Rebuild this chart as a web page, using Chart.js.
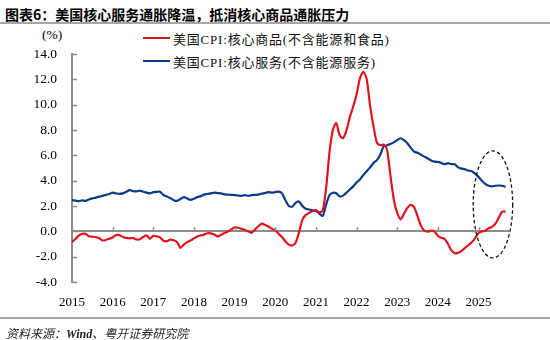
<!DOCTYPE html>
<html>
<head>
<meta charset="utf-8">
<script src="https://cdn.jsdelivr.net/npm/chart.js@4.4.1/dist/chart.umd.min.js"></script>
<style>
  body { margin: 0; background: #fff; }
  #wrap { position: relative; width: 550px; height: 340px; overflow: hidden; background: #fff; }
  #chart { position: absolute; left: 0; top: 0; }
  .title { position: absolute; left: 5px; top: 4px; font: bold 14px "Noto Sans CJK SC", sans-serif; color: #000; white-space: nowrap; }
  .rule { position: absolute; left: 0; width: 550px; height: 1.5px; background: #a6a6a6; }
  .source { position: absolute; left: 6px; top: 324px; font: italic 12px "Liberation Serif", "Noto Sans CJK SC", serif; color: #222; white-space: nowrap; }
  .source b { font-weight: bold; }
  .unit { position: absolute; left: 42px; top: 27px; font: 13.5px "Liberation Serif", serif; color: #000; }
  .lg { position: absolute; left: 143px; height: 16px; display: flex; align-items: center; white-space: nowrap;
        font: 13px "Liberation Serif", "Noto Sans CJK SC", serif; letter-spacing: 0.8px; color: #111; }
  .lg i { display: inline-block; width: 27px; height: 2px; margin-right: 3px; }
</style>
</head>
<body>
<div id="wrap">
  <div class="title">图表6：美国核心服务通胀降温，抵消核心商品通胀压力</div>
  <div class="rule" style="top:22px"></div>
  <div class="unit">(%)</div>
  <div class="lg" style="top:30px"><i style="background:#E0141E"></i>美国CPI:核心商品(不含能源和食品)</div>
  <div class="lg" style="top:53px"><i style="background:#0A3A8C"></i>美国CPI:核心服务(不含能源服务)</div>
  <canvas id="chart" width="550" height="340"></canvas>
  <div class="rule" style="top:317px"></div>
  <div class="source">资料来源：<b>Wind</b>、粤开证券研究院</div>
</div>
<script>
// monthly, Jan 2015 .. Sep 2025, YoY %
const startYear = 2015;
const yearLabels = [2015, 2016, 2017, 2018, 2019, 2020, 2021, 2022, 2023, 2024, 2025];
const yMin = -4, yMax = 14, yStep = 2;

const coreGoods = [
  -0.85, -0.60, -0.34, -0.20, -0.20, -0.38, -0.42, -0.45, -0.55, -0.72, -0.68, -0.58,
  -0.48, -0.30, -0.30, -0.45, -0.52, -0.55, -0.53, -0.64, -0.62, -0.45, -0.32, -0.58,
  -0.36, -0.40, -0.48, -0.75, -0.78, -0.66, -0.70, -0.85, -1.30, -1.05, -0.85, -0.72,
  -0.56, -0.40, -0.32, -0.26, -0.15, -0.16, -0.25, -0.40, -0.28, -0.14, -0.02, 0.15,
  0.32, 0.28, 0.20, 0.12, 0.00, -0.12, 0.13, 0.40, 0.61, 0.50, 0.38, 0.20,
  0.08, -0.20, -0.45, -0.80, -1.05, -1.12, -0.90, -0.10, 0.90, 1.30, 1.45, 1.60,
  1.68, 1.50, 1.65, 3.40, 6.20, 8.00, 8.55, 7.60, 7.35, 7.95, 9.00, 9.85,
  10.80, 12.10, 12.60, 12.00, 9.90, 8.30, 7.00, 6.80, 6.85, 6.45, 4.40, 2.50,
  1.45, 0.95, 1.40, 1.85, 2.10, 1.90, 1.20, 0.45, 0.05, -0.02, 0.05, 0.00,
  -0.35, -0.50, -0.60, -1.00, -1.50, -1.72, -1.70, -1.55, -1.30, -1.10, -0.87, -0.53,
  -0.13, 0.00, 0.05, 0.25, 0.35, 0.60, 1.10, 1.55, 1.55
];

const coreServices = [
  2.46, 2.42, 2.38, 2.44, 2.40, 2.52, 2.60, 2.66, 2.74, 2.80, 2.88, 2.95,
  3.05, 3.00, 2.96, 3.00, 3.12, 3.25, 3.18, 3.15, 3.22, 3.12, 3.06, 3.00,
  3.10, 3.12, 3.12, 2.86, 2.75, 2.62, 2.46, 2.40, 2.55, 2.70, 2.60, 2.48,
  2.58, 2.70, 2.78, 2.90, 2.95, 3.00, 3.05, 3.02, 3.00, 2.92, 2.90, 2.88,
  2.86, 2.83, 2.80, 2.86, 2.80, 2.86, 2.88, 2.90, 2.98, 3.02, 3.10, 3.05,
  3.10, 3.13, 3.00, 2.45, 2.00, 1.95, 2.25, 2.35, 2.00, 1.78, 1.72, 1.66,
  1.60, 1.40, 1.22, 2.10, 2.85, 3.05, 3.00, 2.75, 2.82, 3.05, 3.30, 3.55,
  3.85, 4.10, 4.45, 4.75, 5.05, 5.40, 5.62, 6.05, 6.70, 6.80, 6.90, 7.02,
  7.20, 7.35, 7.20, 6.95, 6.60, 6.30, 6.20, 6.05, 5.90, 5.75, 5.60, 5.50,
  5.48, 5.40, 5.30, 5.38, 5.30, 5.30, 5.05, 4.95, 4.90, 4.80, 4.75, 4.55,
  4.30, 4.00, 3.75, 3.60, 3.55, 3.60, 3.62, 3.60, 3.52
];

// dashed ring around the latest months (data coordinates)
const highlight = { x0: 2024.87, x1: 2025.84, y0: -2.1, y1: 6.35 };

const axisGray = '#8c8c8c';
const toPoints = arr => arr.map((v, i) => ({ x: startYear + i / 12, y: v }));

const decor = {
  id: 'decor',
  afterDraw(chart) {
    const { ctx, scales: { x, y } } = chart;
    ctx.save();
    ctx.strokeStyle = axisGray;
    ctx.lineWidth = 1.5;
    ctx.beginPath();
    for (let v = yMin; v <= yMax; v += yStep) {
      const py = Math.round(y.getPixelForValue(v)) + 0.5;
      ctx.moveTo(x.left, py);
      ctx.lineTo(x.left + 5, py);
    }
    const py0 = y.getPixelForValue(0);
    yearLabels.forEach(yr => {
      const px = Math.round(x.getPixelForValue(yr)) + 0.5;
      ctx.moveTo(px, py0);
      ctx.lineTo(px, py0 - 4);
    });
    ctx.stroke();

    const l = x.getPixelForValue(highlight.x0), r = x.getPixelForValue(highlight.x1);
    const t = y.getPixelForValue(highlight.y1), b = y.getPixelForValue(highlight.y0);
    ctx.strokeStyle = '#111';
    ctx.lineWidth = 1.3;
    ctx.setLineDash([3.5, 2.5]);
    ctx.beginPath();
    ctx.ellipse((l + r) / 2, (t + b) / 2, (r - l) / 2, (b - t) / 2, 0, 0, Math.PI * 2);
    ctx.stroke();
    ctx.restore();
  }
};

new Chart(document.getElementById('chart'), {
  type: 'line',
  data: {
    datasets: [
      { label: '美国CPI:核心商品(不含能源和食品)', data: toPoints(coreGoods), borderColor: '#E0141E', borderWidth: 2.2, pointRadius: 0, tension: 0.25 },
      { label: '美国CPI:核心服务(不含能源服务)', data: toPoints(coreServices), borderColor: '#0A3A8C', borderWidth: 2.2, pointRadius: 0, tension: 0.25 }
    ]
  },
  options: {
    responsive: false,
    animation: false,
    layout: { padding: { top: 54, right: 41, bottom: 28, left: 0 } },
    plugins: { legend: { display: false }, tooltip: { enabled: false } },
    scales: {
      x: {
        type: 'linear',
        min: 2015,
        max: 2025.75,
        grid: { display: false },
        border: { display: false },
        ticks: {
          stepSize: 1,
          includeBounds: false,
          padding: 5,
          color: '#000',
          font: { family: 'Liberation Serif', size: 13 },
          callback: v => yearLabels.includes(v) ? String(v) : ''
        },
        afterFit: s => { s.height = 30; }
      },
      y: {
        min: yMin,
        max: yMax,
        grid: {
          drawTicks: false,
          lineWidth: 2,
          color: c => c.tick && c.tick.value === 0 ? axisGray : 'rgba(0,0,0,0)'
        },
        border: { color: axisGray, width: 2 },
        ticks: {
          stepSize: yStep,
          padding: 15,
          color: '#000',
          font: { family: 'Liberation Serif', size: 13.5 },
          callback: v => v.toFixed(1)
        },
        afterFit: s => { s.width = 72; }
      }
    }
  },
  plugins: [decor]
});
</script>
</body>
</html>
